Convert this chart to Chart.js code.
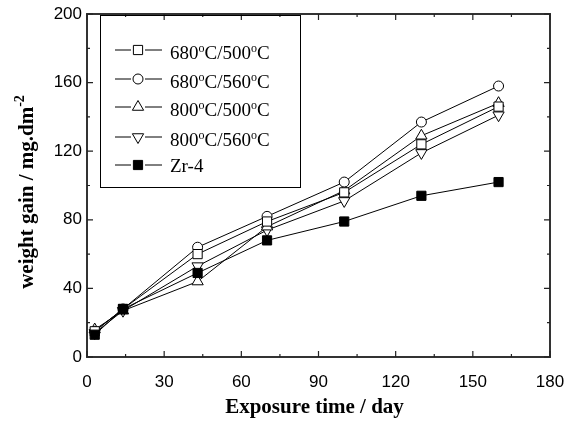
<!DOCTYPE html>
<html>
<head>
<meta charset="utf-8">
<script src="https://cdn.jsdelivr.net/npm/chart.js@4/dist/chart.umd.min.js"></script>
<style>
  body { margin: 0; background: #fff; }
  #wrap { width: 576px; height: 424px; }
</style>
</head>
<body>
<div id="wrap"><canvas id="gainChart" width="576" height="424"></canvas></div>
<script>
// exposure days
const days = [3, 14, 43, 70, 100, 130, 160];
const labels = ['680°C/500°C', '680°C/560°C', '800°C/500°C', '800°C/560°C', 'Zr-4'];
const gain680_500 = [15, 28, 60, 79, 96, 124, 146];
const gain680_560 = [15, 28, 64, 82, 102, 137, 158];
const gain800_500 = [16, 27, 44, 76, 97, 129, 148];
const gain800_560 = [14, 27, 53, 74, 91, 119, 141];
const gainZr4 = [13, 28, 49, 68, 79, 94, 102];

const xMajor = [0, 30, 60, 90, 120, 150, 180];
const yMajor = [0, 40, 80, 120, 160, 200];

function pts(ys) {
    return days.map((d, i) => ({ x: d, y: ys[i] }));
}

const marks = [
    { style: 'rect', rot: 0, r: 6.5, fill: '#fff' },
    { style: 'circle', rot: 0, r: 5, fill: '#fff' },
    { style: 'triangle', rot: 0, r: 6.5, fill: '#fff' },
    { style: 'triangle', rot: 180, r: 6.5, fill: '#fff' },
    { style: 'rect', rot: 0, r: 6.5, fill: '#000' },
];
const series = [gain680_500, gain680_560, gain800_500, gain800_560, gainZr4];

const datasets = series.map((s, i) => ({
    label: labels[i],
    data: pts(s),
    borderColor: '#000',
    borderWidth: 1,
    backgroundColor: marks[i].fill,
    pointStyle: marks[i].style,
    pointRotation: marks[i].rot,
    pointRadius: marks[i].r,
    pointBorderWidth: 1,
    pointBackgroundColor: marks[i].fill,
    pointBorderColor: '#000',
    order: i == 4 ? 0 : 1,
}));

// frame, inward ticks, titles and legend
const decor = {
    id: 'decor',
    afterDraw(chart) {
        const ctx = chart.ctx;
        const a = chart.chartArea;
        const xs = chart.scales.x, ys = chart.scales.y;
        ctx.save();
        ctx.strokeStyle = '#333';
        ctx.lineWidth = 2;
        ctx.strokeRect(a.left, a.top, a.right - a.left, a.bottom - a.top);
        ctx.lineWidth = 1.2;
        ctx.strokeStyle = '#222';
        ctx.beginPath();
        for (let v = 0; v <= 180; v += 15) {
            const px = xs.getPixelForValue(v);
            const len = v % 30 == 0 ? 6 : 3;
            ctx.moveTo(px, a.bottom); ctx.lineTo(px, a.bottom - len);
            ctx.moveTo(px, a.top); ctx.lineTo(px, a.top + len);
        }
        for (let v = 0; v <= 200; v += 20) {
            const py = ys.getPixelForValue(v);
            const len = v % 40 == 0 ? 6 : 3;
            ctx.moveTo(a.left, py); ctx.lineTo(a.left + len, py);
            ctx.moveTo(a.right, py); ctx.lineTo(a.right - len, py);
        }
        ctx.stroke();

        // axis titles
        ctx.fillStyle = '#000';
        ctx.font = 'bold 21px "Liberation Serif"';
        ctx.textAlign = 'center';
        ctx.textBaseline = 'middle';
        ctx.fillText('Exposure time / day', (a.left + a.right) / 2 - 4, 408);

        ctx.save();
        ctx.translate(28, 192);
        ctx.rotate(-Math.PI / 2);
        const main = 'weight gain / mg.dm';
        ctx.font = 'bold 21px "Liberation Serif"';
        const w1 = ctx.measureText(main).width;
        ctx.font = 'bold 14px "Liberation Serif"';
        const w2 = ctx.measureText('-2').width;
        const x0 = -(w1 + w2) / 2;
        ctx.textAlign = 'left';
        ctx.font = 'bold 21px "Liberation Serif"';
        ctx.fillText(main, x0, 0);
        ctx.font = 'bold 14px "Liberation Serif"';
        ctx.fillText('-2', x0 + w1, -8);
        ctx.restore();

        // legend
        ctx.lineWidth = 1;
        ctx.strokeStyle = '#000';
        ctx.strokeRect(100.5, 15.5, 200, 172);
        ctx.textAlign = 'left';
        const rows = [50, 79, 107, 137, 165];
        labels.forEach((lab, i) => {
            const y = rows[i];
            ctx.beginPath();
            ctx.moveTo(115, y); ctx.lineTo(131, y);
            ctx.moveTo(145, y); ctx.lineTo(162, y);
            ctx.stroke();
            ctx.fillStyle = marks[i].fill;
            ctx.strokeStyle = '#000';
            Chart.helpers.drawPoint(ctx, {
                pointStyle: marks[i].style, rotation: marks[i].rot,
                radius: marks[i].r, borderWidth: 1
            }, 138, y);
            ctx.fillStyle = '#000';
            ctx.textBaseline = 'alphabetic';
            let tx = 170;
            const ty = i == 4 ? y + 7 : y + 9;
            const parts = lab.split('°');
            parts.forEach((p, k) => {
                ctx.font = '19px "Liberation Serif"';
                ctx.fillText(p, tx, ty);
                tx += ctx.measureText(p).width;
                if (k < parts.length - 1) {
                    ctx.font = '12px "Liberation Serif"';
                    ctx.fillText('o', tx, ty - 7);
                    tx += ctx.measureText('o').width;
                }
            });
        });
        ctx.restore();
    }
};

const config = {
    type: 'line',
    data: { datasets },
    options: {
        responsive: false,
        animation: false,
        layout: { padding: { top: 14, right: 26, left: 0, bottom: 0 } },
        plugins: { legend: { display: false }, tooltip: { enabled: false } },
        scales: {
            x: {
                type: 'linear',
                min: 0, max: 180,
                afterFit(s) { s.height = 67; s.paddingRight = 0; s.paddingLeft = 0; },
                afterBuildTicks(s) { s.ticks = xMajor.map(v => ({ value: v })); },
                grid: { display: false, drawTicks: false },
                border: { display: false },
                ticks: { color: '#000', padding: 15, font: { family: '"Liberation Sans"', size: 17 } },
            },
            y: {
                min: 0, max: 200,
                afterFit(s) { s.width = 87; s.paddingTop = 0; s.paddingBottom = 0; },
                afterBuildTicks(s) { s.ticks = yMajor.map(v => ({ value: v })); },
                grid: { display: false, drawTicks: false },
                border: { display: false },
                ticks: { color: '#000', padding: 5, font: { family: '"Liberation Sans"', size: 17 } },
            }
        }
    },
    plugins: [decor]
};

var gainChart = new Chart(document.getElementById('gainChart'), config);
</script>
</body>
</html>
